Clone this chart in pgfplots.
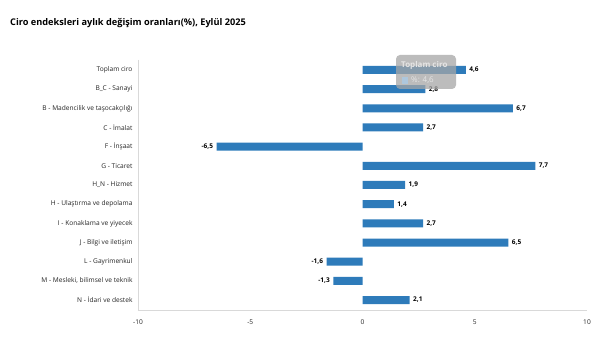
\documentclass[border=0pt]{standalone}
\usepackage{pgfplots}
\pgfplotsset{compat=1.18}
\usepackage{fontspec}
\setmainfont{Open Sans}
\definecolor{barblue}{HTML}{2E7BBA}
\definecolor{axgray}{HTML}{D9D9D9}
\begin{document}
\begin{tikzpicture}[x=1pt,y=1pt]
\path[use as bounding box,fill=white] (0,0) rectangle (603,352);
\node[anchor=west,inner sep=0pt,font=\fontsize{9.2}{11}\selectfont\bfseries] at (10,328.5) {Ciro endeksleri aylık değişim oranları(\%), Eylül 2025};
\begin{axis}[
  at={(138pt,42pt)}, anchor=south west,
  scale only axis, width=449pt, height=250pt,
  xbar, bar width=8pt,
  xmin=-10, xmax=10, ymin=-0.52, ymax=12.52, y dir=reverse,
  xtick={-10,-5,0,5,10},
  ytick={0,...,12},
  yticklabels={Toplam ciro, B\_C - Sanayi, B - Madencilik ve taşocakçılığı, C - İmalat, F - İnşaat, G - Ticaret, H\_N - Hizmet, H - Ulaştırma ve depolama, I - Konaklama ve yiyecek, J - Bilgi ve iletişim, L - Gayrimenkul, {M - Mesleki, bilimsel ve teknik}, N - İdari ve destek},
  ticklabel style={font=\fontsize{6.6}{8}\selectfont, text=black!85},
  /pgf/number format/assume math mode=true,
  axis x line*=bottom, axis y line*=left,
  axis line style={axgray},
  major tick length=0pt,
  yticklabel style={xshift=-2pt},
  xticklabel style={yshift=-6pt},
  nodes near coords,
  nodes near coords style={font=\fontsize{6.5}{8}\selectfont\bfseries, black,
    /pgf/number format/.cd, use comma, fixed, fixed zerofill, precision=1, assume math mode=true},
  clip=false,
]
\addplot[fill=barblue, draw=none] coordinates {
(4.6,0) (2.8,1) (6.7,2) (2.7,3) (-6.5,4) (7.7,5) (1.9,6) (1.4,7) (2.7,8) (6.5,9) (-1.6,10) (-1.3,11) (2.1,12)};
\end{axis}
\fill[gray!70, opacity=0.75, rounded corners=4pt] (396,263) rectangle (456,297);
\node[anchor=west, inner sep=0pt, text=white!80!gray, font=\fontsize{8}{9}\selectfont\bfseries] at (401,287) {Toplam ciro};
\fill[barblue!40!white, opacity=0.85] (402,268) rectangle (408,275);
\node[anchor=west, inner sep=0pt, text=white!80!gray, font=\fontsize{8}{9}\selectfont] at (411,271.5) {\%: 4,6};
\end{tikzpicture}
\end{document}
